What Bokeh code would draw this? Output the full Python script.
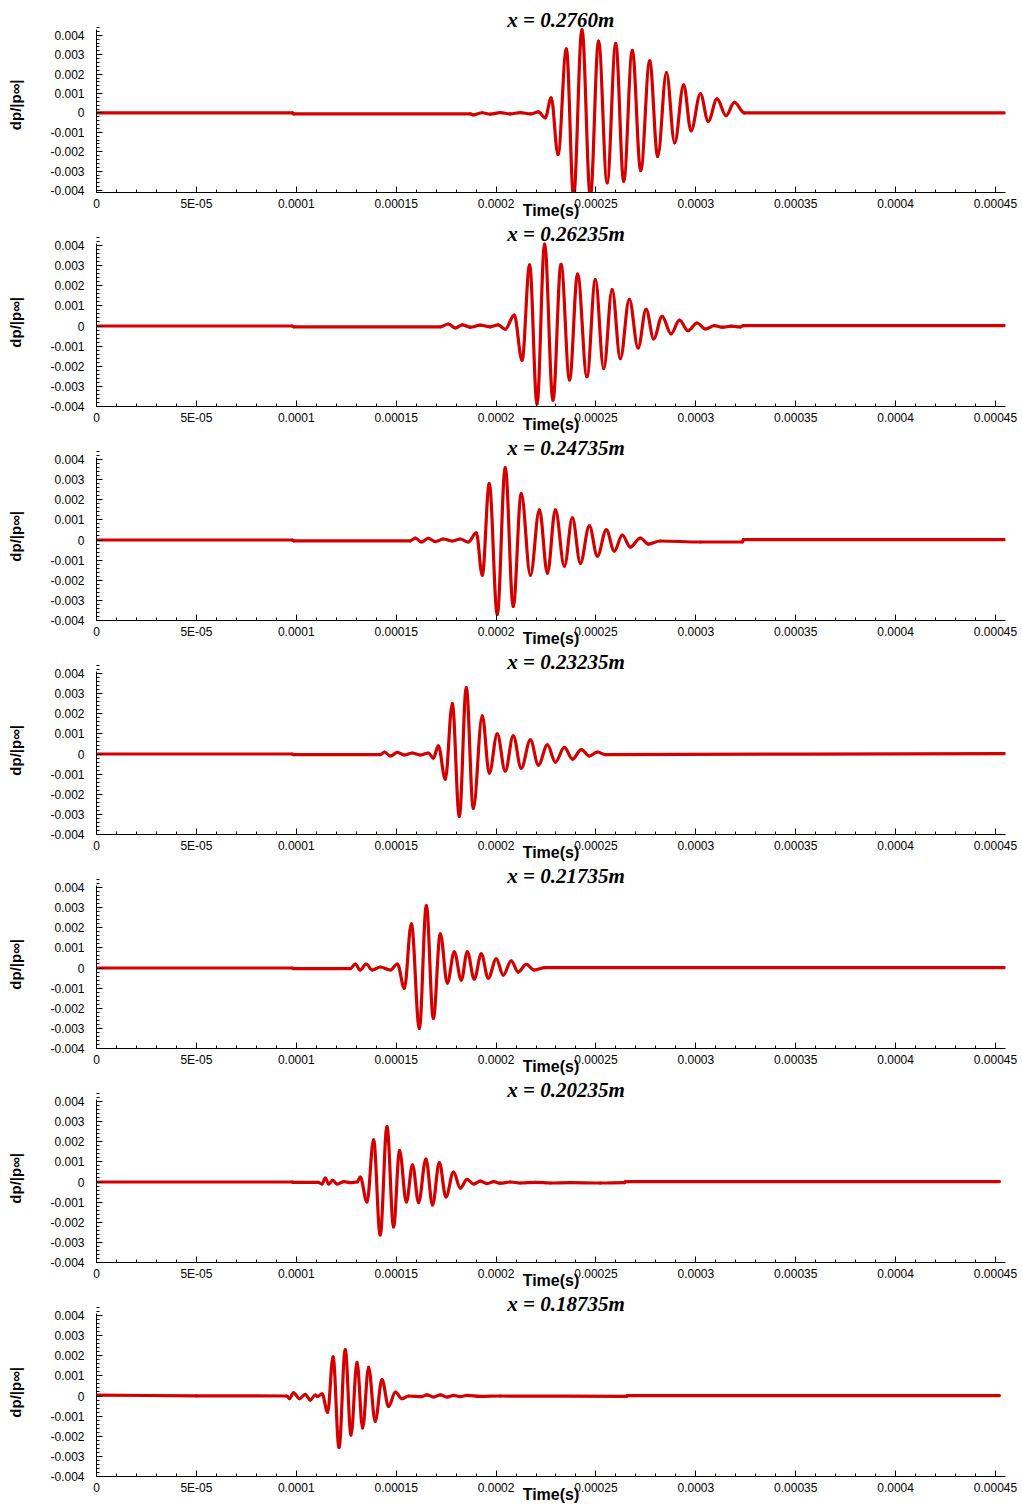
import numpy as np
from bokeh.plotting import figure
from bokeh.layouts import column
from bokeh.models import FixedTicker, Label, Range1d
from bokeh.embed import file_html
from bokeh.resources import INLINE

# ---------------- data ----------------
titles = ["x = 0.2760m", "x = 0.26235m", "x = 0.24735m", "x = 0.23235m",
          "x = 0.21735m", "x = 0.20235m", "x = 0.18735m"]

x_ticks_us = [0, 50, 100, 150, 200, 250, 300, 350, 400, 450]
x_tick_labels = ["0", "5E-05", "0.0001", "0.00015", "0.0002", "0.00025",
                 "0.0003", "0.00035", "0.0004", "0.00045"]
y_ticks = [-0.004, -0.003, -0.002, -0.001, 0.0, 0.001, 0.002, 0.003, 0.004]
y_tick_labels = ["-0.004", "-0.003", "-0.002", "-0.001", "0",
                 "0.001", "0.002", "0.003", "0.004"]

y_top = [0.0043, 0.0041, 0.0041, 0.0041, 0.0041, 0.0041, 0.0041]
y_bottom = [-0.0041, -0.004, -0.004, -0.004, -0.004, -0.004, -0.004]

# time in microseconds, dp/|p_inf|  (extrema)
t1_us = [0, 98.0, 98.7, 187.1, 188.6, 193.1, 197.1, 202.1, 207.1, 212.1, 217.2, 221.2,
         224.6, 227.6, 231.0, 235.2, 238.8, 243.0, 247.2, 251.3, 255.6, 259.9, 263.9,
         268.2, 272.4, 276.9, 280.9, 285.3, 289.4, 293.9, 297.6, 302.3, 306.2, 310.6,
         315.1, 319.3, 324.3, 454.5]
v1 = [0, 0, -0.00005, -0.00005, -0.0001, 0.00001, -0.00006, 0.00002, -0.00005, 0.00002,
      -0.00005, 0.00005,
      -0.00025, 0.00078, -0.00214, 0.0033, -0.0043, 0.0043, -0.0043, 0.0037, -0.0036,
      0.00358, -0.00352, 0.00323, -0.00297, 0.00268, -0.00224, 0.00208, -0.00154,
      0.00145, -0.00092, 0.00099, -0.00043, 0.00072, -0.00014, 0.00054, 0.0, 0.0]

t2_us = [0, 98.0, 98.7, 172.1, 176.1, 179.6, 183.1, 187.1, 192.1, 197.1, 201.1,
         204.6, 209.1, 213.0, 216.8, 220.5, 224.3, 228.5, 232.5, 236.8, 240.8, 245.5,
         249.7, 253.9, 258.1, 262.2, 266.7, 271.1, 275.1, 278.9, 283.1, 287.6, 291.8,
         296.1, 300.6, 304.8, 309.3, 313.3, 317.8, 322.3, 323.8, 454.5]
v2 = [0, 0, -0.00004, -0.00004, 0.0001, -0.0001, 0.00006, -0.00006, 0.00004, -0.00004,
      0.00006,
      -0.00016, 0.00054, -0.0017, 0.00304, -0.00387, 0.00407, -0.00369, 0.00307,
      -0.00268, 0.00258, -0.00252, 0.0023, -0.00211, 0.00181, -0.00162, 0.00132,
      -0.00109, 0.00083, -0.00064, 0.00048, -0.00039, 0.00029, -0.00023, 0.00015,
      -0.00015, 0.00002, -0.00006, -0.00001, -0.00005, 0.00002, 0.00002]

t3_us = [0, 98.0, 98.7, 157.1, 159.6, 162.6, 166.1, 169.6, 173.6, 178.1, 182.1, 186.1,
         190.1, 193.1, 196.6, 200.6, 204.6, 208.6, 212.6, 217.2, 221.7, 225.7, 229.7,
         234.2, 238.2, 242.2, 246.7, 250.7, 255.2, 259.2, 263.2, 267.2, 272.2, 276.2,
         282.2, 302.3, 323.3, 323.8, 454.5]
v3 = [0, 0, -0.00004, -0.00004, 0.0001, -0.0001, 0.00008, -0.00008, 0.00005, -0.00005,
      0.00005, -0.0001,
      0.00035, -0.00175, 0.0028, -0.0037, 0.0036, -0.0033, 0.0023, -0.00175, 0.0015,
      -0.00165, 0.0015, -0.0013, 0.0011, -0.00115, 0.0007, -0.0008, 0.0005, -0.00055,
      0.00025, -0.00035, 0.0001, -0.0002, -0.00005, -0.0001, -0.0001, 0.00002, 0.00002]

t4_us = [0, 98.0, 98.7, 142.1, 144.1, 147.1, 150.6, 154.1, 158.1, 162.1, 166.1, 168.6,
         171.1, 174.6, 178.1, 181.6, 185.1, 188.6, 193.1, 196.6, 200.6, 204.6, 208.6,
         212.6, 217.2, 221.2, 225.7, 229.7, 234.2, 238.2, 242.7, 246.7, 250.7, 254.7,
         455.0]
v4 = [0, 0, -0.00003, -0.00003, 0.0001, -0.0001, 0.00008, -0.00005, 0.00005, -0.00005,
      0.00005, -0.0002,
      0.0004, -0.00125, 0.0025, -0.0031, 0.0033, -0.0027, 0.0019, -0.00095, 0.001,
      -0.00085, 0.0009, -0.0007, 0.0007, -0.00055, 0.00045, -0.0004, 0.00033, -0.00025,
      0.00022, -0.0001, 0.0001, -0.00003, 0.00002]

t5_us = [0, 98.0, 98.7, 127.0, 129.5, 132.0, 135.0, 138.0, 142.1, 147.1, 150.6,
         154.1, 157.6, 161.6, 165.1, 168.6, 172.1, 175.6, 179.1, 182.6, 185.6, 189.1,
         192.6, 196.1, 200.1, 203.6, 207.6, 211.1, 215.1, 219.1, 224.6, 454.5]
v5 = [0, 0, -0.00003, -0.00003, 0.0002, -0.0001, 0.0002, -0.0001, 0.00005, -0.0001,
      0.0002,
      -0.001, 0.0022, -0.003, 0.0031, -0.0025, 0.0017, -0.00075, 0.0008, -0.0006,
      0.0008, -0.00055, 0.0007, -0.0005, 0.00045, -0.00035, 0.00035, -0.0002, 0.00018,
      -0.0001, 0.00002, 0.00002]

t6_us = [0, 98.0, 98.7, 111.0, 112.9, 114.5, 116.2, 118.2, 120.4, 124.0, 127.0, 130.5,
         132.0, 135.4, 138.7, 142.0, 145.4, 148.7, 151.7, 155.1, 158.2, 161.2, 164.9,
         168.2, 171.6, 174.9, 178.7, 182.1, 185.5, 188.8, 192.1, 195.5, 198.8, 202.1,
         207.1, 212.2, 219.7, 227.2, 237.2, 252.2, 264.3, 264.8, 452.0]
v6 = [0, 0, -0.00002, -0.00002, -0.0001, 0.0002, -0.0001, 0.00008, -0.0001, 0.00002,
      -0.00003, 0.0,
      0.00024, -0.00099, 0.00209, -0.00263, 0.00275, -0.00223, 0.00156, -0.00099,
      0.00085, -0.00102, 0.00114, -0.00114, 0.00097, -0.00074, 0.00049, -0.0003,
      0.00013, -0.0001, 0.00004, -0.00008, 0.00002, -0.00006, 0.0, -0.00005, -0.00002,
      -0.00005, -0.00003, -0.00005, -0.00003, 0.00002, 0.00002]

t7_us = [0, 50.0, 95.3, 96.6, 98.6, 101.6, 104.5, 107.0, 109.5, 110.7, 112.9,
         115.7, 118.4, 121.4, 124.5, 127.4, 130.4, 133.2, 136.2, 139.5, 142.9, 146.2,
         149.6, 152.9, 156.2, 162.9, 165.4, 168.7, 172.1, 175.4, 178.8, 182.1, 185.5,
         192.1, 202.1, 265.2, 265.7, 452.0]
v7 = [0.00004, 0.00001, 0.0, -0.00013, 0.00016, -0.00013, 0.00008, -0.0002, 0.00005,
      -0.00002, 0.00011,
      -0.00081, 0.00194, -0.00256, 0.00231, -0.00194, 0.00167, -0.00159, 0.00142,
      -0.00126, 0.00081, -0.00052, 0.0002, -0.00013, 0.0, -0.00003, 0.00006, -0.00005,
      0.00006, -0.00005, 0.00003, -0.00003, 0.00003, -0.00002, 0.0, -0.00002, 0.00002,
      0.00002]

series = [(t1_us, v1), (t2_us, v2), (t3_us, v3), (t4_us, v4),
          (t5_us, v5), (t6_us, v6), (t7_us, v7)]

# ---------------- styling ----------------
RED = "#d40000"
LEFT, RIGHT = 96, 17
FRAME_W = 1022 - LEFT - RIGHT
PLOT_H = [163, 163, 163, 163, 163, 163, 163]     # visible plot height (px)
EXTRA_TOP = [29, 22, 22, 22, 22, 22, 22]          # room above the plot for the title
X_MAX_US = 455.0
TITLE_X_US = 205.6

x_minor = [float(v) for v in range(0, 460, 10)]
y_minor = [round(-0.004 + k * 0.0002, 4) for k in range(43)]


def make_panel(i):
    t, v = series[i]
    t = np.asarray(t, dtype=float)
    v = np.asarray(v, dtype=float)
    ph, ex = PLOT_H[i], EXTRA_TOP[i]
    yb, yt = y_bottom[i], y_top[i]
    y_end = yt + ex * (yt - yb) / ph
    p = figure(frame_width=FRAME_W, frame_height=ph + ex,
               output_backend="svg", toolbar_location=None,
               x_range=Range1d(0, X_MAX_US), y_range=Range1d(yb, y_end),
               min_border_left=LEFT, min_border_right=RIGHT,
               min_border_top=0, min_border_bottom=0)
    p.xgrid.visible = False
    p.ygrid.visible = False
    p.outline_line_color = None
    p.background_fill_color = "white"
    p.border_fill_color = "white"

    dx = np.diff(t)
    k = 0.364
    p.bezier(x0=t[:-1], y0=v[:-1], x1=t[1:], y1=v[1:],
             cx0=t[:-1] + k * dx, cy0=v[:-1], cx1=t[1:] - k * dx, cy1=v[1:],
             line_color=RED, line_width=3.2, line_cap="round")

    xa = p.xaxis[0]
    xa.ticker = FixedTicker(ticks=x_ticks_us, minor_ticks=x_minor)
    xa.major_label_overrides = {tk: lb for tk, lb in zip(x_ticks_us, x_tick_labels)}
    ya = p.yaxis[0]
    ya.ticker = FixedTicker(ticks=y_ticks, minor_ticks=y_minor)
    ya.major_label_overrides = {tk: lb for tk, lb in zip(y_ticks, y_tick_labels)}
    ya.bounds = (yb, yt)
    for ax in (xa, ya):
        ax.axis_line_color = "black"
        ax.axis_line_width = 1
        ax.major_tick_in = 6
        ax.major_tick_out = 0
        ax.minor_tick_in = 3
        ax.minor_tick_out = 0
        ax.major_tick_line_color = "black"
        ax.minor_tick_line_color = "black"
        ax.major_label_text_font = "Liberation Sans"
        ax.major_label_text_font_size = "12px"
        ax.major_label_text_color = "black"
        ax.axis_label_text_font = "Liberation Sans"
        ax.axis_label_text_font_style = "bold"
        ax.axis_label_text_color = "black"
    xa.major_label_standoff = 4
    ya.major_label_standoff = 12

    xa.axis_label = "Time(s)"
    xa.axis_label_text_font_size = "16px"
    xa.axis_label_standoff = -12
    ya.axis_label = "dp/|p∞|" + "\u00a0" * 4
    ya.axis_label_text_font_size = "15px"
    ya.axis_label_standoff = 23

    p.add_layout(Label(x=TITLE_X_US, y=ph + 10, x_units="data", y_units="screen",
                       text=titles[i], text_font="Liberation Serif",
                       text_font_style="bold italic", text_font_size="21px",
                       text_color="black", text_align="left",
                       text_baseline="alphabetic"))
    return p


figs = [make_panel(i) for i in range(7)]
layout = column(*figs, spacing=0)

open("out.html", "w").write(file_html(layout, INLINE))
